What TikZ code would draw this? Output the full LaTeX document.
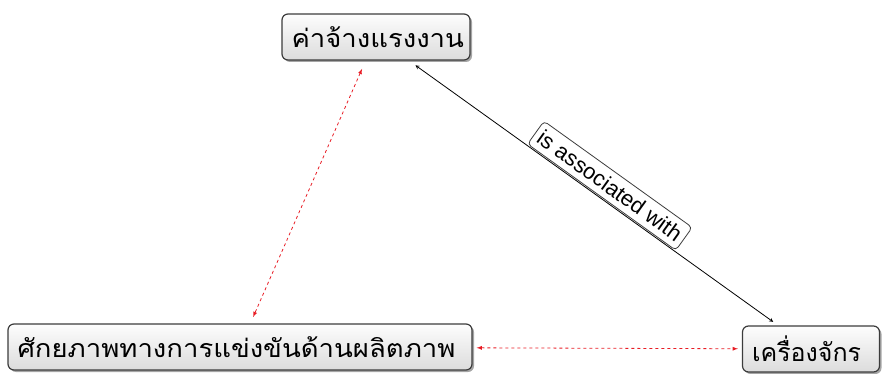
\documentclass[tikz,border=0pt]{standalone}
\usepackage{fontspec}
\setmainfont{Liberation Sans}
\newfontfamily\thaifont[Script=Thai]{Loma}
\newfontfamily\thaiwide[Script=Thai, FakeStretch=1.1]{Loma}
\usetikzlibrary{arrows,shapes,shadows}
\definecolor{cmborder}{RGB}{60,60,60}
\definecolor{cmtop}{RGB}{253,253,253}
\definecolor{cmbottom}{RGB}{220,220,220}
\definecolor{cmred}{RGB}{232,28,36}
\tikzstyle{concept} = [draw=cmborder, line width=1.2pt, rounded corners=6pt, top color=cmtop, bottom color=cmbottom, drop shadow={shadow xshift=2pt, shadow yshift=-2pt, fill=black!70}, font=\thaifont\fontsize{25}{29}\selectfont, align=left, inner xsep=9.5pt, minimum height=46pt]
\tikzstyle{wide} = [font=\thaiwide\fontsize{25}{29}\selectfont]
\tikzstyle{link} = [thick, dashed, <->, >=latex, color=cmred]
\tikzstyle{assoc} = [thick, <->, >=stealth, color=black]
\tikzstyle{linklabel} = [draw=cmborder, fill=white, rounded corners=4pt, font=\fontsize{22}{26}\selectfont, inner xsep=5pt, inner ysep=6pt, sloped, above=1pt]

\begin{document}
\begin{tikzpicture}[x=1pt, y=-1pt]
\useasboundingbox (0,0) rectangle (883,374);

% Concepts
\node[concept, wide, text width=169pt] (wage) at (376,37) {ค่าจ้างแรงงาน};
\node[concept, wide, text width=445pt] (prod) at (240,347) {ศักยภาพทางการแข่งขันด้านผลิตภาพ};
\node[concept, text width=118pt] (machine) at (811,349) {เครื่องจักร};

% Links
\draw[link, shorten <=9pt, shorten >=7pt] (wage) -- (prod);
\draw[link, shorten <=4pt, shorten >=4pt] (prod) -- (machine);
\draw[assoc, shorten <=8pt, shorten >=6pt] (wage) -- node[linklabel, pos=0.52] {is associated with} (machine);
\end{tikzpicture}
\end{document}
